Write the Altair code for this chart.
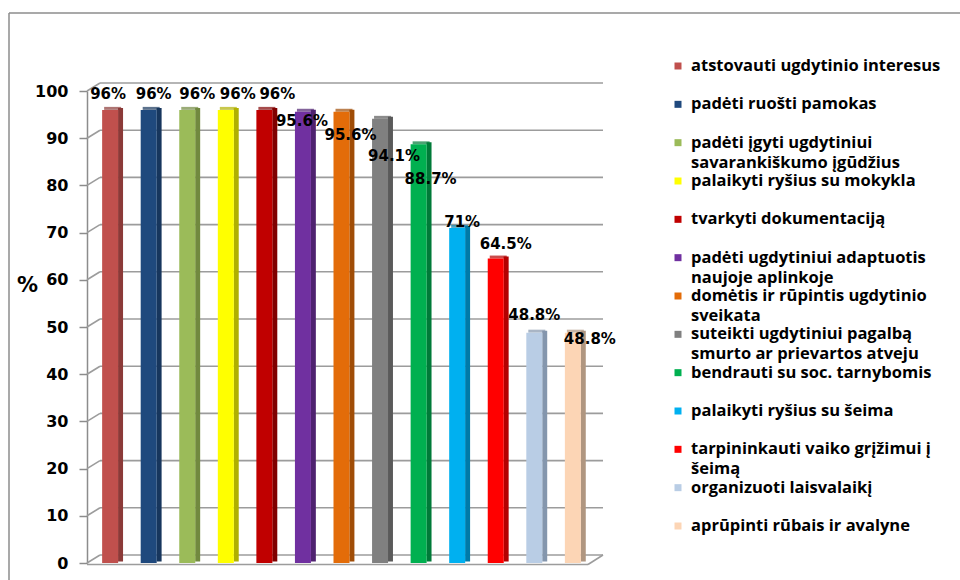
import altair as alt
import pandas as pd

# Survey answers: share of respondents (%) per duty
categories = [
    "atstovauti ugdytinio interesus",
    "padėti ruošti pamokas",
    "padėti įgyti ugdytiniui\nsavarankiškumo įgūdžius",
    "palaikyti ryšius su mokykla",
    "tvarkyti dokumentaciją",
    "padėti ugdytiniui adaptuotis\nnaujoje aplinkoje",
    "domėtis ir rūpintis ugdytinio\nsveikata",
    "suteikti ugdytiniui pagalbą\nsmurto ar prievartos atveju",
    "bendrauti su soc. tarnybomis",
    "palaikyti ryšius su šeima",
    "tarpininkauti vaiko grįžimui į\nšeimą",
    "organizuoti laisvalaikį",
    "aprūpinti rūbais ir avalyne",
]
values = [96, 96, 96, 96, 96, 95.6, 95.6, 94.1, 88.7, 71, 64.5, 48.8, 48.8]
y_ticks = list(range(0, 101, 10))

# Styling: face colours of each bar and side shading
front_colors = ["#C0504D", "#1F497D", "#9BBB59", "#FFFF00", "#C00000", "#7030A0",
                "#E36C09", "#808080", "#00B050", "#00B0F0", "#FF0000", "#B9CDE5", "#FCD5B5"]
side_colors = ["#8B3A38", "#17365D", "#71893F", "#B0B000", "#800000", "#4F2270",
               "#A04D07", "#5A5A5A", "#007A38", "#007AA8", "#B30000", "#8496AD", "#B09680"]
# pixel nudges for the value labels
label_dx = [-2, 5, 10, 12, 13, -1, 9, 14, 12, 5, 10, 0, 17]
label_dy = [-16, -16, -16, -16, -16, 9, 23, 37, 35, -6, -15, -18, 6]

df = pd.DataFrame({
    "cat": categories,
    "v": values,
    "front": front_colors,
    "side": side_colors,
})
df["idx"] = range(len(df))
df["label"] = [f"{v:g}%" for v in df["v"]]
df["line1"] = [c.split("\n")[0] for c in categories]
df["line2"] = [c.split("\n")[1] if "\n" in c else "" for c in categories]

grid_df = pd.DataFrame({"g": y_ticks})

GRID = "#9c9c9c"
FONT = "DejaVu Sans"
LEG_FONT = "Open Sans"

yscale = alt.Scale(domain=[0, 100], nice=False, zero=True)
xscale = alt.Scale(paddingInner=0, paddingOuter=0.1)
X = alt.X("cat:N", sort=None, scale=xscale, axis=None)
YV = alt.Y("v:Q", scale=yscale, axis=None)

base = alt.Chart(df)

# back-wall gridlines and the connectors to the axis ticks
grid = alt.Chart(grid_df).mark_rule(color=GRID, strokeWidth=1.6, yOffset=-8).encode(
    y=alt.Y("g:Q", scale=yscale, axis=None), x=alt.value(13), x2=alt.value(516))
connectors = alt.Chart(grid_df).mark_rule(color=GRID, strokeWidth=1.6, y2Offset=-8).encode(
    y=alt.Y("g:Q", scale=yscale, axis=None), y2=alt.Y2("g"), x=alt.value(0), x2=alt.value(13))
floor_front = alt.Chart(grid_df).transform_filter("datum.g == 0").mark_rule(
    color=GRID, strokeWidth=1.6, yOffset=1.5).encode(
    y=alt.Y("g:Q", scale=yscale, axis=None), x=alt.value(0), x2=alt.value(501))
floor_side = alt.Chart(grid_df).transform_filter("datum.g == 0").mark_rule(
    color=GRID, strokeWidth=1.6, yOffset=1.5, y2Offset=-8).encode(
    y=alt.Y("g:Q", scale=yscale, axis=None), y2=alt.Y2("g"), x=alt.value(501), x2=alt.value(516))

# bar side face, top face and front face
side = base.mark_rule(strokeWidth=5, yOffset=-2, y2Offset=-1.5).encode(
    x=alt.X("cat:N", sort=None, scale=xscale, axis=None, bandPosition=0.77),
    y=YV, y2=alt.Y2(datum=0),
    color=alt.Color("side:N", scale=None))
top = base.mark_tick(thickness=3, size=17, xOffset=2.5, yOffset=-1.5).encode(
    x=X, y=YV, color=alt.Color("side:N", scale=None))
bars = base.mark_bar(size=16).encode(
    x=X,
    y=alt.Y("v:Q", scale=yscale, axis=alt.Axis(
        values=y_ticks, grid=False, domainColor="#8c8c8c", domainWidth=1.5,
        tickColor="#8c8c8c", tickWidth=1.5, tickSize=8, labelPadding=11,
        labelFont=FONT, labelFontSize=16, labelFontWeight="bold", labelColor="#000",
        title="%", titleAngle=0, titleFont=FONT, titleFontSize=21, titleFontWeight="bold",
        titleColor="#000", titleX=-60, titleY=194, titleAlign="center", titleBaseline="middle")),
    y2=alt.Y2(datum=0),
    color=alt.Color("front:N", scale=None))

# value labels, each nudged off its bar
label_layers = [
    base.transform_filter(f"datum.idx == {i}").mark_text(
        font=FONT, fontSize=15, fontWeight="bold", baseline="middle", color="#000",
        dx=dx, dy=dy).encode(x=X, y=YV, text="label:N")
    for i, (dx, dy) in enumerate(zip(label_dx, label_dy))
]

# legend on the right
leg_y = alt.Y("cat:N", sort=None, axis=None,
              scale=alt.Scale(type="point", domain=categories, range=[-25, 435], padding=0))
leg_sq = base.mark_square(size=49, opacity=1).encode(
    x=alt.value(591), y=leg_y, color=alt.Color("front:N", scale=None))
leg_t1 = base.mark_text(align="left", baseline="middle", font=LEG_FONT, fontSize=16.5,
                        fontWeight="bold", color="#000").encode(
    x=alt.value(604), y=leg_y, text="line1:N")
leg_t2 = base.mark_text(align="left", baseline="middle", font=LEG_FONT, fontSize=16.5,
                        fontWeight="bold", color="#000", dy=20).encode(
    x=alt.value(604), y=leg_y, text="line2:N")

# frame around the chart
frame_left = alt.Chart(grid_df).transform_filter("datum.g == 0").mark_rule(
    color="#8c8c8c", strokeWidth=1.5).encode(
    x=alt.value(-78), y=alt.value(-78), y2=alt.value(520))
frame_top = alt.Chart(grid_df).transform_filter("datum.g == 0").mark_rule(
    color="#8c8c8c", strokeWidth=1.5).encode(
    x=alt.value(-78), x2=alt.value(900), y=alt.value(-78))

chart = alt.layer(
    grid, connectors, floor_front, floor_side, side, top, bars, *label_layers,
    leg_sq, leg_t1, leg_t2, frame_left, frame_top,
).resolve_scale(y="independent").properties(
    width=509, height=472,
    autosize=alt.AutoSizeParams(type="none"),
    padding={"left": 87, "top": 91, "right": 364, "bottom": 17},
    background="white",
).configure_view(stroke=None)

chart.save("out.html", embed_options={"renderer": "svg", "actions": False})
